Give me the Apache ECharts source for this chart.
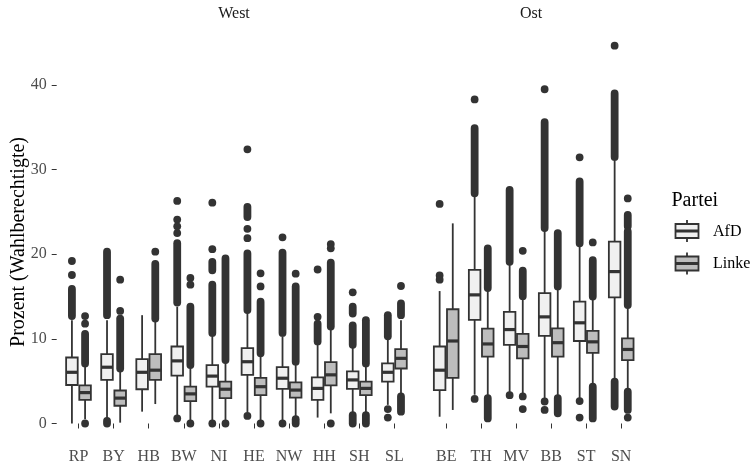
<!DOCTYPE html>
<html>
<head>
<meta charset="utf-8">
<script src="https://cdn.jsdelivr.net/npm/echarts@6/dist/echarts.min.js"></script>
<style>
  html, body { margin: 0; padding: 0; background: #fff; }
  #chart { width: 752px; height: 465px; }
</style>
</head>
<body>
<div id="chart"></div>
<script>
var westStates = ['RP', 'BY', 'HB', 'BW', 'NI', 'HE', 'NW', 'HH', 'SH', 'SL'];
var ostStates = ['BE', 'TH', 'MV', 'BB', 'ST', 'SN'];
var yTicks = [0, 10, 20, 30, 40];

// [lower whisker, Q1, median, Q3, upper whisker]
var afdWest = [
  [0.0, 4.55, 6.05, 7.8, 12.2], [0.6, 5.15, 6.65, 8.2, 12.2], [1.4, 4.05, 6.05, 7.6, 12.8],
  [1.0, 5.65, 7.4, 9.1, 13.8], [0.4, 4.35, 5.6, 6.9, 10.4], [1.3, 5.75, 7.3, 8.9, 13.1],
  [0.4, 4.1, 5.35, 6.65, 10.3], [0.7, 2.8, 4.15, 5.45, 9.5], [1.3, 4.1, 5.15, 6.15, 9.0],
  [2.2, 4.95, 6.05, 7.1, 10.1]
];
var linkeWest = [
  [0.5, 2.8, 3.65, 4.5, 6.7], [0.1, 2.1, 3.0, 3.9, 6.1], [2.3, 5.15, 6.3, 8.2, 12.0],
  [0.4, 2.65, 3.5, 4.35, 6.5], [0.4, 3.0, 4.05, 4.95, 7.3], [0.4, 3.35, 4.35, 5.4, 8.1],
  [0.7, 3.05, 3.95, 4.85, 7.1], [1.2, 4.5, 5.75, 7.25, 11.25], [1.3, 3.35, 4.15, 4.95, 6.9],
  [3.35, 6.5, 7.7, 8.8, 12.2]
];
var afdOst = [
  [0.8, 3.95, 6.3, 9.1, 15.65], [3.4, 12.25, 15.2, 18.15, 26.9], [3.55, 9.3, 11.1, 13.2, 18.8],
  [3.0, 10.35, 12.6, 15.4, 22.9], [3.0, 9.75, 11.9, 14.4, 21.1], [5.15, 14.9, 17.95, 21.5, 31.35]
];
var linkeOst = [
  [1.6, 5.4, 9.75, 13.5, 23.65], [3.2, 7.9, 9.4, 11.2, 15.8], [3.35, 7.7, 9.1, 10.6, 14.8],
  [3.2, 7.9, 9.55, 11.25, 16.0], [4.55, 8.35, 9.65, 10.95, 14.8], [3.95, 7.5, 8.75, 10.05, 13.8]
];

// outliers: single points, and dense stretches of overlapping points [from, to]
var afdWestPoints = [[19.2, 17.55], [], [], [26.3, 24.1, 23.3, 22.5, 0.6], [26.1, 20.6, 0],
  [32.4, 23.0, 21.9, 0.9], [22.0, 0], [18.2, 12.6], [15.5], [1.7, 0.7]];
var afdWestRuns = [[[12.7, 15.9]], [[12.8, 20.3], [0, 0.3]], [], [[14.3, 21.3]],
  [[18.1, 19.1], [10.7, 16.4]], [[24.4, 25.6], [13.4, 20.1]], [[10.7, 20.2]], [[9.7, 11.8]],
  [[13.0, 13.8], [9.3, 11.6], [0, 1.0]], [[10.3, 12.8]]];
var linkeWestPoints = [[12.7, 11.8, 0], [17.0, 13.3], [20.3], [17.2, 16.4, 0], [0],
  [17.75, 16.2, 0], [17.7], [21.2, 20.7, 0], [], [16.25]];
var linkeWestRuns = [[[7.1, 10.6]], [[6.5, 12.4]], [[12.4, 18.85]], [[6.9, 13.8]], [[7.5, 19.5]],
  [[8.3, 14.4]], [[7.3, 16.2], [0, 0.5]], [[11.45, 19.0]], [[7.1, 12.2], [0, 1.0]],
  [[12.8, 14.2], [1.4, 3.2]]];
var afdOstPoints = [[25.95, 17.5, 17.0], [38.3, 2.9], [3.35], [39.5, 2.6, 1.6], [31.45, 2.65, 0.7], [44.65]];
var afdOstRuns = [[], [[27.2, 34.9]], [[19.1, 27.6]], [[23.1, 35.6]], [[21.3, 28.6]], [[31.5, 39.0], [2.0, 4.95]]];
var linkeOstPoints = [[], [], [20.4, 3.2, 1.7], [], [21.4], [26.6, 0.7]];
var linkeOstRuns = [[], [[16.0, 20.7], [0.6, 3.0]], [[15.05, 18.05]], [[16.2, 22.5], [1.2, 3.0]],
  [[15.0, 19.3], [0.6, 4.35]], [[23.3, 24.65], [14.0, 22.7], [1.6, 3.75]]];

var ink = '#333333';
var afdFill = '#F0F0F0';
var linkeFill = '#BDBDBD';
var serif = 'Liberation Serif';

function boxData(stats) {
  return stats.map(function (s, i) { return [i].concat(s); });
}

function outlierData(points, runs) {
  var out = [];
  points.forEach(function (list, i) {
    list.forEach(function (v) { out.push([i, v, v]); });
  });
  runs.forEach(function (list, i) {
    list.forEach(function (r) { out.push([i, r[0], r[1]]); });
  });
  return out;
}

function boxRender(shift, fill) {
  return function (params, api) {
    var cat = api.value(0);
    var band = api.size([1, 0])[0];
    var x = api.coord([cat, 0])[0] + shift * band;
    var w = band * 0.33;
    var yLow = api.coord([cat, api.value(1)])[1];
    var yQ1 = api.coord([cat, api.value(2)])[1];
    var yMed = api.coord([cat, api.value(3)])[1];
    var yQ3 = api.coord([cat, api.value(4)])[1];
    var yHigh = api.coord([cat, api.value(5)])[1];
    var line = { stroke: ink, lineWidth: 1.8 };
    return {
      type: 'group',
      children: [
        { type: 'line', shape: { x1: x, y1: yQ3, x2: x, y2: yHigh }, style: line },
        { type: 'line', shape: { x1: x, y1: yQ1, x2: x, y2: yLow }, style: line },
        { type: 'rect', shape: { x: x - w / 2, y: yQ3, width: w, height: yQ1 - yQ3 },
          style: { fill: fill, stroke: ink, lineWidth: 1.8 } },
        { type: 'line', shape: { x1: x - w / 2, y1: yMed, x2: x + w / 2, y2: yMed },
          style: { stroke: ink, lineWidth: 3.2 } }
      ]
    };
  };
}

function outlierRender(shift) {
  return function (params, api) {
    var cat = api.value(0);
    var band = api.size([1, 0])[0];
    var x = api.coord([cat, 0])[0] + shift * band;
    var r = 3.9;
    var yLo = api.coord([cat, api.value(1)])[1];
    var yHi = api.coord([cat, api.value(2)])[1];
    if (yLo - yHi < 0.5) {
      return { type: 'circle', shape: { cx: x, cy: yLo, r: r }, style: { fill: ink } };
    }
    return {
      type: 'rect',
      shape: { x: x - r, y: yHi - r, width: 2 * r, height: yLo - yHi + 2 * r, r: r },
      style: { fill: ink }
    };
  };
}

var series = [];
[
  { idx: 0, afd: afdWest, linke: linkeWest, afdP: afdWestPoints, afdR: afdWestRuns, linkeP: linkeWestPoints, linkeR: linkeWestRuns },
  { idx: 1, afd: afdOst, linke: linkeOst, afdP: afdOstPoints, afdR: afdOstRuns, linkeP: linkeOstPoints, linkeR: linkeOstRuns }
].forEach(function (f) {
  [['AfD', -0.1875, afdFill, f.afd, f.afdP, f.afdR], ['Linke', 0.1875, linkeFill, f.linke, f.linkeP, f.linkeR]]
    .forEach(function (p) {
      series.push({
        type: 'custom', name: p[0], xAxisIndex: f.idx, yAxisIndex: f.idx,
        renderItem: outlierRender(p[1]), data: outlierData(p[4], p[5]),
        encode: { x: 0, y: [1, 2] }, clip: false, silent: true
      });
      series.push({
        type: 'custom', name: p[0], xAxisIndex: f.idx, yAxisIndex: f.idx,
        renderItem: boxRender(p[1], p[2]), data: boxData(p[3]),
        encode: { x: 0, y: [1, 2, 3, 4, 5] }, clip: false, silent: true
      });
    });
});

function xAxisFor(idx, cats) {
  return {
    type: 'category', gridIndex: idx, data: cats, offset: 18.2,
    axisLine: { show: false },
    axisTick: { show: true, alignWithLabel: true, length: 5, lineStyle: { color: ink, width: 1 } },
    axisLabel: { color: '#4D4D4D', fontFamily: serif, fontSize: 16, margin: 7.5 },
    splitLine: { show: false }
  };
}

function legendKey(cy, fill) {
  return [
    { type: 'line', shape: { x1: 687, y1: cy - 11, x2: 687, y2: cy + 11 }, style: { stroke: ink, lineWidth: 1.8 } },
    { type: 'rect', shape: { x: 675.5, y: cy - 7, width: 23, height: 14 }, style: { fill: fill, stroke: ink, lineWidth: 1.8 } },
    { type: 'line', shape: { x1: 675.5, y1: cy, x2: 698.5, y2: cy }, style: { stroke: ink, lineWidth: 3 } }
  ];
}

var chart = echarts.init(document.getElementById('chart'), null, { renderer: 'canvas' });
chart.setOption({
  animation: false,
  backgroundColor: '#ffffff',
  grid: [
    { left: 60.95, width: 351, top: 85, bottom: 41.5, outerBoundsMode: 'none' },
    { left: 428.7, width: 210, top: 85, bottom: 41.5, outerBoundsMode: 'none' }
  ],
  xAxis: [xAxisFor(0, westStates), xAxisFor(1, ostStates)],
  yAxis: [
    {
      type: 'value', gridIndex: 0, min: yTicks[0], max: yTicks[yTicks.length - 1], interval: 10, offset: 4.25,
      axisLine: { show: false },
      axisTick: { show: true, length: 5, lineStyle: { color: ink, width: 1 } },
      axisLabel: { color: '#4D4D4D', fontFamily: serif, fontSize: 16, margin: 10 },
      splitLine: { show: false }
    },
    {
      type: 'value', gridIndex: 1, min: yTicks[0], max: yTicks[yTicks.length - 1], interval: 10, show: false,
      splitLine: { show: false }
    }
  ],
  graphic: [
    { type: 'text', x: 234, y: 14, style: { text: 'West', fontFamily: serif, fontSize: 16, fill: '#1A1A1A', align: 'center', verticalAlign: 'middle' } },
    { type: 'text', x: 531, y: 14, style: { text: 'Ost', fontFamily: serif, fontSize: 16, fill: '#1A1A1A', align: 'center', verticalAlign: 'middle' } },
    { type: 'text', x: 18.5, y: 242, rotation: Math.PI / 2,
      style: { text: 'Prozent (Wahlberechtigte)', fontFamily: serif, fontSize: 20, fill: '#000', align: 'center', verticalAlign: 'middle' } },
    { type: 'text', x: 671.5, y: 201, style: { text: 'Partei', fontFamily: serif, fontSize: 20, fill: '#000', align: 'left', verticalAlign: 'middle' } },
    { type: 'group', children: legendKey(231, afdFill).concat(legendKey(263.5, linkeFill)) },
    { type: 'text', x: 713, y: 232, style: { text: 'AfD', fontFamily: serif, fontSize: 16, fill: '#000', align: 'left', verticalAlign: 'middle' } },
    { type: 'text', x: 713, y: 263.5, style: { text: 'Linke', fontFamily: serif, fontSize: 16, fill: '#000', align: 'left', verticalAlign: 'middle' } }
  ],
  series: series
});
</script>
</body>
</html>
